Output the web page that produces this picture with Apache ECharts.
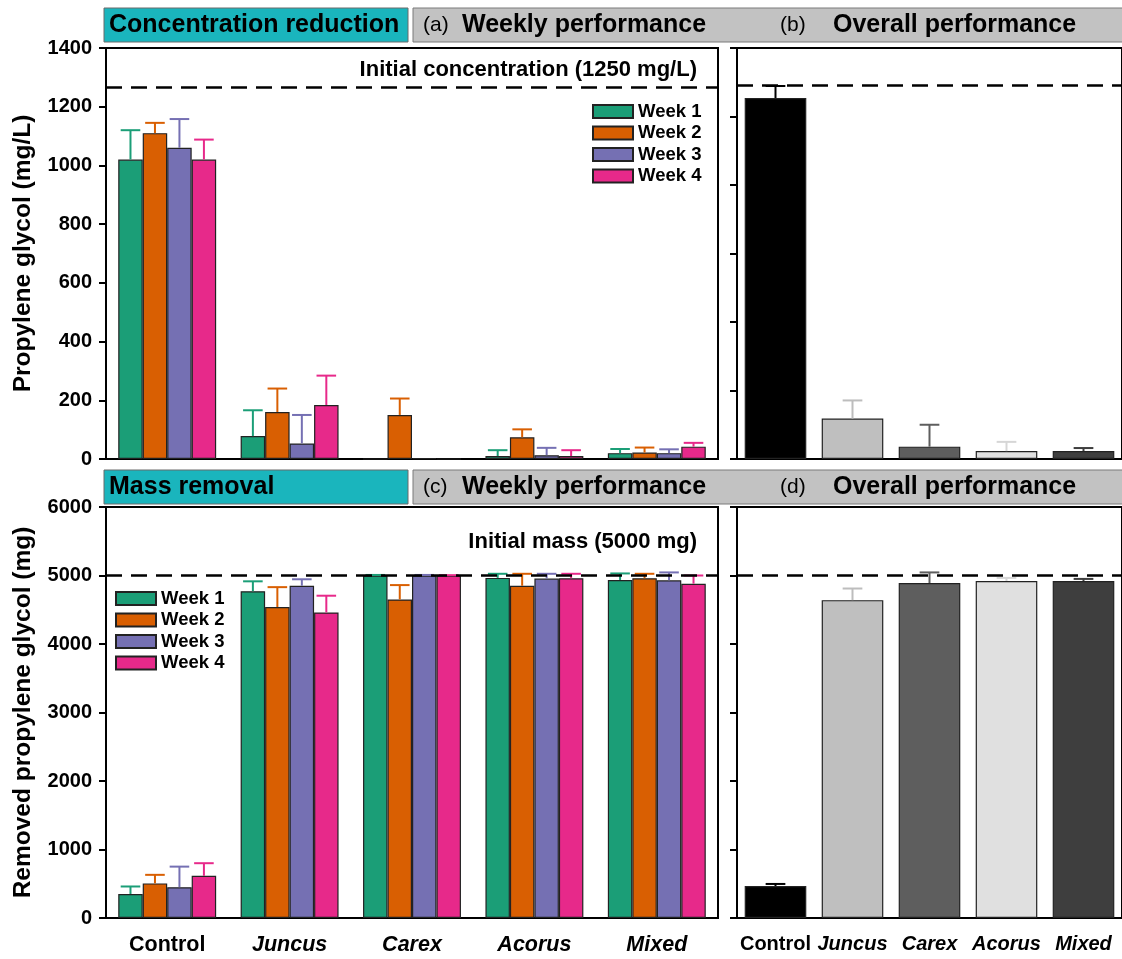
<!DOCTYPE html>
<html><head><meta charset="utf-8">
<script src="https://cdn.jsdelivr.net/npm/echarts@6/dist/echarts.min.js"></script>
<style>html,body{margin:0;padding:0;background:#fff}#c{width:1122px;height:959px}</style>
</head><body><div id="c"></div>
<script>
// ---------- DATA ----------
const categories = ['Control', 'Juncus', 'Carex', 'Acorus', 'Mixed'];
const weeks = ['Week 1', 'Week 2', 'Week 3', 'Week 4'];
const yTicksConc = [0, 200, 400, 600, 800, 1000, 1200, 1400];
const yTicksMass = [0, 1000, 2000, 3000, 4000, 5000, 6000];

// (a) weekly concentration (mg/L), mean and upper error
const concW1 = [1020, 78, 0, 10, 20];
const concW2 = [1110, 160, 150, 74, 22];
const concW3 = [1060, 53, 3, 13, 20];
const concW4 = [1020, 184, 0, 10, 42];
const concErrW1 = [100, 88, 0, 20, 14];
const concErrW2 = [35, 80, 56, 27, 17];
const concErrW3 = [98, 97, 0, 25, 13];
const concErrW4 = [68, 100, 0, 20, 13];
const concInitialLine = 1265;

// (b) overall concentration
const concOverall = [1054, 118, 36, 23, 23];
const concOverallErr = [35, 53, 64, 27, 9];
const concOverallLine = 1090;
const concOverallMax = 1200;

// (c) weekly mass removal (mg)
const massW1 = [350, 4770, 5000, 4965, 4935];
const massW2 = [505, 4540, 4650, 4850, 4960];
const massW3 = [450, 4850, 5000, 4955, 4930];
const massW4 = [615, 4460, 5000, 4960, 4880];
const massErrW1 = [110, 145, 8, 60, 95];
const massErrW2 = [125, 290, 210, 175, 65];
const massErrW3 = [300, 95, 8, 70, 115];
const massErrW4 = [185, 245, 5, 65, 120];
const massInitialLine = 5010;

// (d) overall mass removal
const massOverall = [467, 4640, 4890, 4920, 4920];
const massOverallErr = [30, 170, 155, 45, 30];
const massOverallLine = 5010;

// ---------- STYLE ----------
const FONT = "'Liberation Sans', Arial, sans-serif";
const weekColors = ['#1b9e77', '#d95f02', '#7570b3', '#e7298a'];
const overallColors = ['#000000', '#bfbfbf', '#5e5e5e', '#e0e0e0', '#3e3e3e'];
const overallErrColors = ['#000000', '#bdbdbd', '#5e5e5e', '#d6d6d6', '#3e3e3e'];

const concWeekly = [concW1, concW2, concW3, concW4];
const concWeeklyErr = [concErrW1, concErrW2, concErrW3, concErrW4];
const massWeekly = [massW1, massW2, massW3, massW4];
const massWeeklyErr = [massErrW1, massErrW2, massErrW3, massErrW4];

const chart = echarts.init(document.getElementById('c'));

function errRender(idx, n, capFrac, colorFn) {
  return function (params, api) {
    const ci = api.value(0), mean = api.value(1), sd = api.value(2);
    if (!(sd > 0)) return null;
    const base = api.coord([ci, mean]);
    const top = api.coord([ci, mean + sd]);
    const band = api.size([1, 0])[0];
    const groupW = band * 0.8;
    const bw = groupW / n;
    const x = base[0] - groupW / 2 + (idx + 0.5) * bw;
    const half = bw * capFrac / 2;
    const col = colorFn(ci);
    const st = { stroke: col, lineWidth: 2 };
    return {
      type: 'group',
      children: [
        { type: 'line', shape: { x1: x, y1: base[1], x2: x, y2: top[1] }, style: st },
        { type: 'line', shape: { x1: x - half, y1: top[1], x2: x + half, y2: top[1] }, style: st }
      ]
    };
  };
}

function dashed(v) {
  return {
    silent: true, symbol: 'none', label: { show: false },
    lineStyle: { color: '#000', type: [16, 9], width: 2.5 },
    data: [{ yAxis: v }]
  };
}

const tickAxis = { lineStyle: { color: '#000', width: 2 } };
function richFor(size) {
  return {
    n: { fontFamily: FONT, fontWeight: 'bold', fontSize: size, color: '#000' },
    i: { fontFamily: FONT, fontWeight: 'bold', fontStyle: 'italic', fontSize: size, color: '#000' }
  };
}
function catFmt(v) { return v === 'Control' ? '{n|Control}' : '{i|' + v + '}'; }
const xTick = { alignWithLabel: true, length: 7, lineStyle: { width: 2, color: '#000' } };

const xAxes = [
  { gridIndex: 0, type: 'category', data: categories, axisLine: tickAxis, axisTick: xTick, axisLabel: { show: false } },
  { gridIndex: 1, type: 'category', data: categories, axisLine: tickAxis, axisTick: xTick, axisLabel: { show: false } },
  { gridIndex: 2, type: 'category', data: categories, axisLine: tickAxis, axisTick: xTick,
    axisLabel: { interval: 0, margin: 16, formatter: catFmt, rich: richFor(21.5) } },
  { gridIndex: 3, type: 'category', data: categories, axisLine: tickAxis, axisTick: xTick,
    axisLabel: { interval: 0, margin: 16, formatter: catFmt, rich: richFor(20) } }
];

const yLabel = { fontFamily: FONT, fontWeight: 'bold', fontSize: 20, color: '#000', margin: 14, formatter: (v) => String(v) };
const yName = { fontFamily: FONT, fontWeight: 'bold', fontSize: 24.5, color: '#000' };
const yLine = { show: true, lineStyle: { color: '#000', width: 2 } };
const yTick = { show: true, length: 7, lineStyle: { color: '#000', width: 2 } };
const yAxes = [
  { gridIndex: 0, type: 'value', min: yTicksConc[0], max: yTicksConc[yTicksConc.length - 1], interval: 200,
    name: 'Propylene glycol (mg/L)', nameLocation: 'middle', nameGap: 70, nameTextStyle: yName,
    axisLine: yLine, axisTick: yTick, axisLabel: yLabel, splitLine: { show: false } },
  { gridIndex: 1, type: 'value', min: 0, max: concOverallMax, interval: 200,
    axisLine: yLine, axisTick: yTick, axisLabel: { show: false }, splitLine: { show: false } },
  { gridIndex: 2, type: 'value', min: yTicksMass[0], max: yTicksMass[yTicksMass.length - 1], interval: 1000,
    name: 'Removed propylene glycol (mg)', nameLocation: 'middle', nameGap: 70, nameTextStyle: yName,
    axisLine: yLine, axisTick: yTick, axisLabel: yLabel, splitLine: { show: false } },
  { gridIndex: 3, type: 'value', min: 0, max: 6000, interval: 1000,
    axisLine: yLine, axisTick: yTick, axisLabel: { show: false }, splitLine: { show: false } }
];

const series = [];
function addWeekly(gi, vals, errs, lineVal) {
  weeks.forEach((w, k) => {
    series.push({
      type: 'bar', name: w, xAxisIndex: gi, yAxisIndex: gi,
      data: vals[k], barGap: '0%', barCategoryGap: '20%',
      itemStyle: { color: weekColors[k], borderColor: '#222', borderWidth: 1.2 },
      markLine: k === 0 ? dashed(lineVal) : undefined, z: 2
    });
  });
  weeks.forEach((w, k) => {
    series.push({
      type: 'custom', xAxisIndex: gi, yAxisIndex: gi, z: 3, silent: true,
      renderItem: errRender(k, 4, 0.8, () => weekColors[k]),
      data: vals[k].map((v, i) => [i, v, errs[k][i]]),
      encode: { x: 0, y: 1 }
    });
  });
}
function addOverall(gi, vals, errs, lineVal) {
  series.push({
    type: 'bar', name: 'overall' + gi, xAxisIndex: gi, yAxisIndex: gi,
    barCategoryGap: '20%',
    data: vals.map((v, i) => ({ value: v, itemStyle: { color: overallColors[i] } })),
    itemStyle: { borderColor: '#222', borderWidth: 1.2 },
    markLine: dashed(lineVal), z: 2
  });
  series.push({
    type: 'custom', xAxisIndex: gi, yAxisIndex: gi, z: 3, silent: true,
    renderItem: errRender(0, 1, 0.32, (i) => overallErrColors[i]),
    data: vals.map((v, i) => [i, v, errs[i]]),
    encode: { x: 0, y: 1 }
  });
}
addWeekly(0, concWeekly, concWeeklyErr, concInitialLine);
addOverall(1, concOverall, concOverallErr, concOverallLine);
addWeekly(2, massWeekly, massWeeklyErr, massInitialLine);
addOverall(3, massOverall, massOverallErr, massOverallLine);

const legendText = { fontFamily: FONT, fontWeight: 'bold', fontSize: 18.5, color: '#000' };
function headerGraphics(y0, leftTitle, lA, lB) {
  const h = 34, cy = y0 + h / 2;
  return [
    { type: 'rect', shape: { x: 104, y: y0, width: 304, height: h }, style: { fill: '#1ab5bd', stroke: '#6a6a6a', lineWidth: 1 } },
    { type: 'text', x: 109, y: cy, style: { text: leftTitle, font: 'bold 25px ' + FONT, fill: '#000', textVerticalAlign: 'middle' } },
    { type: 'rect', shape: { x: 413, y: y0, width: 720, height: h }, style: { fill: '#c2c2c2', stroke: '#7a7a7a', lineWidth: 1 } },
    { type: 'text', x: 423, y: cy, style: { text: lA, font: '21px ' + FONT, fill: '#000', textVerticalAlign: 'middle' } },
    { type: 'text', x: 462, y: cy, style: { text: 'Weekly performance', font: 'bold 25px ' + FONT, fill: '#000', textVerticalAlign: 'middle' } },
    { type: 'text', x: 780, y: cy, style: { text: lB, font: '21px ' + FONT, fill: '#000', textVerticalAlign: 'middle' } },
    { type: 'text', x: 833, y: cy, style: { text: 'Overall performance', font: 'bold 25px ' + FONT, fill: '#000', textVerticalAlign: 'middle' } }
  ];
}

const option = {
  backgroundColor: '#fff',
  animation: false,
  grid: [
    { left: 106, top: 48, width: 612, height: 411, show: true, borderColor: '#000', borderWidth: 2, backgroundColor: 'transparent' },
    { left: 737, top: 48, width: 389, height: 411, show: true, borderColor: '#000', borderWidth: 2, backgroundColor: 'transparent' },
    { left: 106, top: 507, width: 612, height: 411, show: true, borderColor: '#000', borderWidth: 2, backgroundColor: 'transparent' },
    { left: 737, top: 507, width: 389, height: 411, show: true, borderColor: '#000', borderWidth: 2, backgroundColor: 'transparent' }
  ],
  xAxis: xAxes,
  yAxis: yAxes,
  legend: [
    { data: weeks, orient: 'vertical', left: 587, top: 97, itemWidth: 40, itemHeight: 13, itemGap: 2.5,
      textStyle: legendText, icon: 'rect', selectedMode: false },
    { data: weeks, orient: 'vertical', left: 110, top: 584, itemWidth: 40, itemHeight: 13, itemGap: 2.5,
      textStyle: legendText, icon: 'rect', selectedMode: false }
  ],
  graphic: [
    ...headerGraphics(8, 'Concentration reduction', '(a)', '(b)'),
    ...headerGraphics(470, 'Mass removal', '(c)', '(d)'),
    { type: 'text', x: 697, y: 70, style: { text: 'Initial concentration (1250 mg/L)', font: 'bold 22px ' + FONT, fill: '#000', textAlign: 'right', textVerticalAlign: 'middle' } },
    { type: 'text', x: 697, y: 542, style: { text: 'Initial mass (5000 mg)', font: 'bold 22px ' + FONT, fill: '#000', textAlign: 'right', textVerticalAlign: 'middle' } }
  ],
  series: series
};
chart.setOption(option);
</script>
</body></html>
